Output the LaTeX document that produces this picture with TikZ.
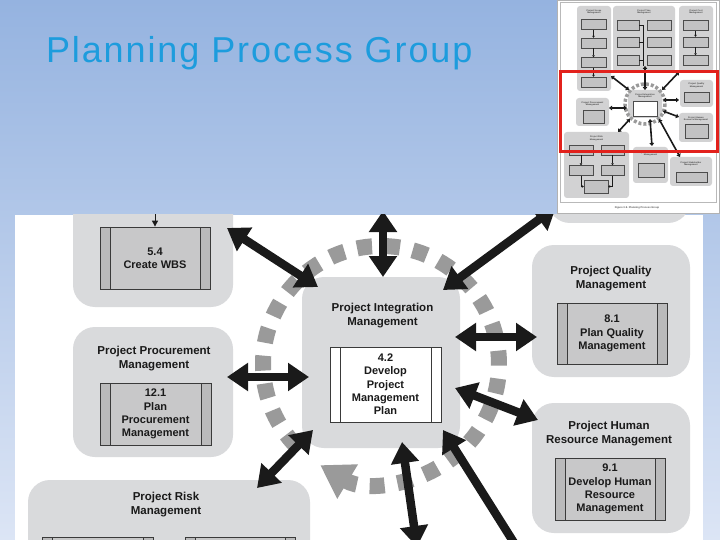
\documentclass[tikz,border=0pt]{standalone}
\usepackage{fontspec}
\setmainfont{Liberation Sans}
\newfontfamily\titlefont[LetterSpace=5.3]{Liberation Sans}
\usetikzlibrary{arrows.meta}

\definecolor{bgtop}{HTML}{95B3E0}
\definecolor{bgbot}{HTML}{DCE5F5}
\definecolor{titleblue}{HTML}{1D9CDD}
\definecolor{groupgrey}{HTML}{D9DADC}
\definecolor{procgrey}{HTML}{C8C8C9}
\definecolor{stripgrey}{HTML}{BABABB}
\definecolor{boxline}{HTML}{3A3A3A}
\definecolor{ringgrey}{HTML}{9A9A9A}
\definecolor{inkblack}{HTML}{1A1A1A}
\definecolor{thumbgrey}{HTML}{D2D2D3}
\definecolor{thumbinner}{HTML}{C2C2C3}
\definecolor{markred}{HTML}{E2211C}

\newcommand\procfont{\fontsize{11}{13.3}\selectfont\bfseries}
\newcommand\groupfont{\fontsize{11.5}{14}\selectfont\bfseries}
\newcommand\thumbfont{\fontsize{2.2}{2.6}\selectfont\bfseries}

\tikzset{
  stripfill/.store in=\stripcol, stripfill=stripgrey,
  group/.style={rectangle, rounded corners=22pt, fill=groupgrey, inner sep=0pt},
  grouptitle/.style={font=\groupfont, text=inkblack, align=center, inner sep=0pt},
  procbox/.style={rectangle, draw=boxline, line width=0.8pt, fill=procgrey,
    inner sep=0pt, align=center, text=inkblack, font=\procfont,
    path picture={
      \fill[fill=\stripcol] (path picture bounding box.north west) rectangle ([xshift=10pt]path picture bounding box.south west);
      \fill[fill=\stripcol] (path picture bounding box.north east) rectangle ([xshift=-10pt]path picture bounding box.south east);
      \draw[boxline, line width=0.8pt] ([xshift=10pt]path picture bounding box.north west) -- ([xshift=10pt]path picture bounding box.south west);
      \draw[boxline, line width=0.8pt] ([xshift=-10pt]path picture bounding box.north east) -- ([xshift=-10pt]path picture bounding box.south east);
    }},
  planbox/.style={procbox, fill=white, stripfill=white},
  biarrow/.style={draw=inkblack, line width=8.5pt, {Triangle[length=21pt,width=27pt]}-{Triangle[length=21pt,width=27pt]}},
  onearrow/.style={draw=inkblack, line width=8.5pt, -{Triangle[length=21pt,width=27pt]}},
  smallarrow/.style={draw=inkblack, line width=1pt, -{Triangle[length=6pt,width=6pt]}},
  ring/.style={draw=ringgrey, line width=16pt, dash pattern=on 15pt off 13pt, -{Triangle[length=32pt,width=38pt]}},
  titletext/.style={font=\titlefont\fontsize{36}{40}\selectfont, text=titleblue, anchor=base west, inner sep=0pt, outer sep=0pt},
  % thumbnail of the whole figure
  tgroup/.style={rectangle, rounded corners=3pt, fill=thumbgrey, inner sep=0pt},
  tproc/.style={rectangle, draw=gray!60!black, line width=0.3pt, fill=thumbinner, inner sep=0pt, minimum height=10pt},
  ttitle/.style={font=\thumbfont, text=inkblack!80, align=center, inner sep=0pt},
  tarrow/.style={draw=inkblack, line width=1.6pt, {Triangle[length=3pt,width=4.5pt]}-{Triangle[length=3pt,width=4.5pt]}},
  tdown/.style={draw=inkblack, line width=0.6pt, -{Triangle[length=2pt,width=2.5pt]}},
  tring/.style={draw=ringgrey, line width=3.5pt, dash pattern=on 3pt off 2pt}
}

\begin{document}
\begin{tikzpicture}[x=1pt, y=-1pt]
  \useasboundingbox (0,0) rectangle (720,540);
  \shade[top color=bgtop, bottom color=bgbot] (0,0) rectangle (720,540);

  % title
  \node[titletext] (title) at (46,63) {Planning Process Group};

  % cut-out of the figure
  \fill[white] (15,215) rectangle (703,540);
  \begin{scope}
    \clip (15,215) rectangle (703,540);

    \node[group, minimum width=160pt, minimum height=207pt] (scope) at (153,203.5) {};
    \node[group, minimum width=142pt, minimum height=93pt] (cost) at (619,176.5) {};
    \node[group, minimum width=160pt, minimum height=130pt] (procure) at (153,392) {};
    \node[group, minimum width=158pt, minimum height=171pt] (integ) at (381,362.5) {};
    \node[group, minimum width=158pt, minimum height=132pt] (quality) at (611,311) {};
    \node[group, minimum width=158pt, minimum height=130pt] (human) at (611,468) {};
    \node[group, minimum width=282pt, minimum height=120pt] (risk) at (169,540) {};

    % iteration ring
    \coordinate (hub) at (381,364);
    \draw[ring] (hub) ++(136:118) arc[start angle=136, end angle=481, radius=118];

    % ends of the arrows
    \coordinate (scopeUp) at (155,200);
    \coordinate (wbsOut) at (227,228);
    \coordinate (integNW) at (318,287);
    \coordinate (topIn) at (383,211);
    \coordinate (integN) at (383,277);
    \coordinate (costOut) at (556,207);
    \coordinate (integNE) at (443,290);
    \coordinate (procOut) at (227,377);
    \coordinate (integW) at (309,377);
    \coordinate (integE) at (455,337);
    \coordinate (qualIn) at (537,337);
    \coordinate (integESE) at (455,388);
    \coordinate (hrIn) at (538,420);
    \coordinate (integSW) at (313,430);
    \coordinate (riskIn) at (257,488);
    \coordinate (integS) at (402,442);
    \coordinate (commIn) at (417,547);
    \coordinate (integSE) at (443,430);
    \coordinate (stakeIn) at (528,565);

    \draw[biarrow] (wbsOut) -- (integNW);
    \draw[biarrow] (topIn) -- (integN);
    \draw[biarrow] (costOut) -- (integNE);
    \draw[biarrow] (procOut) -- (integW);
    \draw[biarrow] (integE) -- (qualIn);
    \draw[biarrow] (integESE) -- (hrIn);
    \draw[biarrow] (integSW) -- (riskIn);
    \draw[biarrow] (integS) -- (commIn);
    \draw[onearrow] (stakeIn) -- (integSE);

    % titles and processes
    \node[grouptitle] (procureT) at (154,359) {Project Procurement\\Management};
    \node[grouptitle] (integT) at (382.5,316) {Project Integration\\Management};
    \node[grouptitle] (qualityT) at (611,278.5) {Project Quality\\Management};
    \node[grouptitle] (humanT) at (609,434) {Project Human\\Resource Management};
    \node[grouptitle] (riskT) at (166,504.5) {Project Risk\\Management};

    \node[procbox, minimum width=110pt, minimum height=62pt] (wbs) at (155,258) {5.4\\Create WBS};
    \node[procbox, minimum width=111pt, minimum height=62pt] (planproc) at (155.5,414) {12.1\\Plan\\Procurement\\Management};
    \node[planbox, minimum width=111pt, minimum height=75pt] (pmplan) at (385.5,384.5) {4.2\\Develop\\Project\\Management\\Plan};
    \node[procbox, minimum width=110pt, minimum height=61pt] (planqual) at (612,333.5) {8.1\\Plan Quality\\Management};
    \node[procbox, minimum width=110pt, minimum height=62pt] (planhr) at (610,489) {9.1\\Develop Human\\Resource\\Management};
    \node[procbox, minimum width=111pt, minimum height=63pt] (riskA) at (97.5,568.5) {};
    \node[procbox, minimum width=110pt, minimum height=63pt] (riskB) at (240,568.5) {};
    \draw[smallarrow] (scopeUp) -- (wbs.north);
  \end{scope}

  % thumbnail
  \node[draw=gray!60, fill=white, line width=0.5pt, minimum width=162pt, minimum height=213pt, inner sep=0pt] (thumb) at (638,106.5) {};
  \draw[gray!55, line width=0.4pt] (560,2) rectangle (716,202);

  \node[tgroup, minimum width=34pt, minimum height=85pt] (tscope) at (594,48.5) {};
  \node[tgroup, minimum width=62pt, minimum height=66pt] (ttime) at (644,39) {};
  \node[tgroup, minimum width=34pt, minimum height=66pt] (tcost) at (696,39) {};
  \node[tgroup, minimum width=34pt, minimum height=28pt] (tinteg) at (645,104) {};
  \node[tgroup, minimum width=33pt, minimum height=27pt] (tqual) at (696.5,93.5) {};
  \node[tgroup, minimum width=33pt, minimum height=28pt] (tproc) at (592.5,112) {};
  \node[tgroup, minimum width=34pt, minimum height=29pt] (thr) at (696,127.5) {};
  \node[tgroup, minimum width=65pt, minimum height=66pt] (trisk) at (596.5,165) {};
  \node[tgroup, minimum width=35pt, minimum height=36pt] (tcomm) at (650.5,165) {};
  \node[tgroup, minimum width=42pt, minimum height=29pt] (tstake) at (691,171.5) {};

  \draw[tring] (tinteg.center) circle (20);

  \foreach \y [count=\k] in {24.5,43,62.5,82}
    \node[tproc, minimum width=25pt] (ts\k) at (593.5,\y) {};
  \foreach \y [count=\k] in {25.5,42,60.5} {
    \node[tproc, minimum width=22pt] (ttl\k) at (628,\y) {};
    \node[tproc, minimum width=24pt] (ttr\k) at (659,\y) {};
    \node[tproc, minimum width=25pt] (tc\k) at (695.5,\y) {};
  }
  \foreach \k/\j in {1/2,2/3,3/4} \draw[tdown] (ts\k) -- (ts\j);
  \foreach \k/\j in {1/2,2/3} \draw[tdown] (tc\k) -- (tc\j);
  \draw[inkblack, line width=0.5pt] (ttl1.east) -| (643.5,66) (ttl2.east) -- (643.5,42) (ttl3.east) -- (643.5,60.5);

  \node[tproc, fill=white, minimum width=24pt, minimum height=15pt] (tplan) at (645,109) {};
  \node[tproc, minimum width=25pt] (tq1) at (696.5,97) {};
  \node[tproc, minimum width=21pt, minimum height=13pt] (tp1) at (593.5,117) {};
  \node[tproc, minimum width=23pt, minimum height=14pt] (th1) at (696.5,131) {};
  \node[tproc, minimum width=24pt] (tr1) at (581,150) {};
  \node[tproc, minimum width=23pt] (tr2) at (612.5,150) {};
  \node[tproc, minimum width=24pt] (tr3) at (581,170.5) {};
  \node[tproc, minimum width=23pt] (tr4) at (612.5,170.5) {};
  \node[tproc, minimum width=24pt, minimum height=13pt] (tr5) at (596,186.5) {};
  \node[tproc, minimum width=26pt, minimum height=14pt] (tm1) at (651,170) {};
  \node[tproc, minimum width=31pt] (tk1) at (691.5,177.5) {};
  \draw[tdown] (tr1) -- (tr3);
  \draw[tdown] (tr2) -- (tr4);
  \draw[tdown] (tr3) |- (tr5);
  \draw[tdown] (tr4) |- (tr5);

  \coordinate (tScopeOut) at (611,76);
  \coordinate (tIntegNW) at (629,90);
  \coordinate (tTopIn) at (645,66);
  \coordinate (tIntegN) at (645,90);
  \coordinate (tCostOut) at (679,72);
  \coordinate (tIntegNE) at (662,90);
  \coordinate (tProcOut) at (609,108);
  \coordinate (tIntegW) at (627,108);
  \coordinate (tIntegE) at (663,100);
  \coordinate (tQualIn) at (679,100);
  \coordinate (tIntegESE) at (663,111);
  \coordinate (tHrIn) at (679,117);
  \coordinate (tRiskIn) at (618,132);
  \coordinate (tIntegSW) at (630,119);
  \coordinate (tIntegS) at (650,119);
  \coordinate (tCommIn) at (652,146);
  \coordinate (tIntegSE) at (659,119);
  \coordinate (tStakeIn) at (680,157);
  \draw[tarrow] (tScopeOut) -- (tIntegNW);
  \draw[tarrow] (tTopIn) -- (tIntegN);
  \draw[tarrow] (tCostOut) -- (tIntegNE);
  \draw[tarrow] (tProcOut) -- (tIntegW);
  \draw[tarrow] (tIntegE) -- (tQualIn);
  \draw[tarrow] (tIntegESE) -- (tHrIn);
  \draw[tarrow] (tRiskIn) -- (tIntegSW);
  \draw[tarrow] (tIntegS) -- (tCommIn);
  \draw[tarrow] (tIntegSE) -- (tStakeIn);

  \node[ttitle] (tscopeT) at (594,12) {Project Scope\\Management};
  \node[ttitle] (ttimeT) at (644,12) {Project Time\\Management};
  \node[ttitle] (tcostT) at (696,12) {Project Cost\\Management};
  \node[ttitle] (tintegT) at (645,96) {Project Integration\\Management};
  \node[ttitle] (tqualT) at (696.5,85.5) {Project Quality\\Management};
  \node[ttitle] (tprocT) at (592.5,104) {Project Procurement\\Management};
  \node[ttitle] (thrT) at (696,119) {Project Human\\Resource Management};
  \node[ttitle] (triskT) at (596.5,138.5) {Project Risk\\Management};
  \node[ttitle] (tcommT) at (650.5,154) {Project Communications\\Management};
  \node[ttitle] (tstakeT) at (691,164) {Project Stakeholder\\Management};
  \node[font=\fontsize{2.6}{3}\selectfont\bfseries, text=gray!70!black, inner sep=0pt] (caption) at (637,208) {Figure 3-9. Planning Process Group};

  \draw[markred, line width=3pt] (560,72) rectangle (717,152);
\end{tikzpicture}
\end{document}
